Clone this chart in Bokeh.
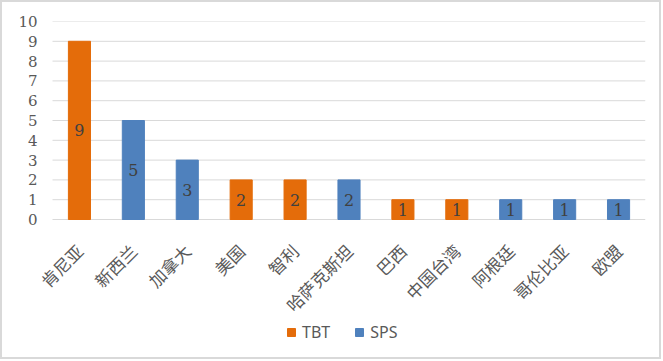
import math
from bokeh.plotting import figure
from bokeh.models import ColumnDataSource, Legend, LegendItem, FixedTicker, CDSView, IndexFilter, Range1d
from bokeh.core.properties import value
from bokeh.embed import file_html
from bokeh.resources import INLINE

categories = ["肯尼亚", "新西兰", "加拿大", "美国", "智利", "哈萨克斯坦", "巴西", "中国台湾", "阿根廷", "哥伦比亚", "欧盟"]
counts = [9, 5, 3, 2, 2, 2, 1, 1, 1, 1, 1]
series = ["TBT", "SPS", "SPS", "TBT", "TBT", "SPS", "TBT", "TBT", "SPS", "SPS", "SPS"]
series_names = ["TBT", "SPS"]
series_colors = {"TBT": "#E46C0A", "SPS": "#4F81BD"}
y_ticks = list(range(0, 11))

n = len(categories)
src = ColumnDataSource(dict(
    x=[i + 0.5 for i in range(n)],
    cat=categories,
    val=counts,
    zero=[0] * n,
    half=[v / 2 for v in counts],
    lab=[str(v) for v in counts],
    ser=series,
    col=[series_colors[s] for s in series],
))
grid_src = ColumnDataSource(dict(y=y_ticks, x0=[0] * len(y_ticks), x1=[n] * len(y_ticks)))

# layout: value axis 0..10 occupies top 198px of the frame; space below holds category labels + legend
axis_px = 198.0
frame_h = 326
y_lo = -(frame_h - axis_px) / (axis_px / 10.0)
cat_px = 593.0 / n
left_extra_px = 15.0
frame_w = 608

p = figure(x_range=Range1d(-left_extra_px / cat_px, n), y_range=Range1d(y_lo, 10),
           frame_width=frame_w, frame_height=frame_h,
           output_backend="svg", toolbar_location=None,
           min_border_left=35, min_border_right=14, min_border_top=19, min_border_bottom=10)
p.outline_line_color = None
p.styles = {"border": "2px solid #d9d9d9"}

p.xgrid.grid_line_color = None
p.ygrid.grid_line_color = None
p.segment(x0="x0", x1="x1", y0="y", y1="y", source=grid_src, line_color="#d9d9d9", line_width=1)

renderers = {}
for s in series_names:
    view_idx = [i for i, v in enumerate(series) if v == s]
    r = p.vbar(x="x", top="val", bottom=0, width=0.41, color="col", source=src,
               view=CDSView(filter=IndexFilter(view_idx)))
    renderers[s] = r

p.text(x="x", y="half", text="lab", source=src, text_align="center", text_baseline="middle",
       text_font=value("DejaVu Serif"), text_font_size="16px", text_color="#404040")

# category labels (rotated) under the zero line
p.text(x="x", y="zero", text="cat", source=src, angle=math.pi / 4,
       text_align="right", text_baseline="middle", y_offset=28,
       text_font=value("Noto Sans CJK SC"), text_font_size="17px", text_color="#595959")

p.yaxis.ticker = FixedTicker(ticks=y_ticks)
p.yaxis.axis_line_color = None
p.yaxis.major_tick_line_color = None
p.yaxis.minor_tick_line_color = None
p.yaxis.major_tick_out = 0
p.yaxis.major_tick_in = 0
p.yaxis.major_label_text_font = "DejaVu Serif"
p.yaxis.major_label_text_font_size = "15px"
p.yaxis.major_label_text_color = "#595959"
p.yaxis.major_label_standoff = 0

p.xaxis.visible = False

legend = Legend(items=[LegendItem(label=s, renderers=[renderers[s]]) for s in series_names],
                orientation="horizontal", location=(249, 4),
                label_text_font="Noto Sans", label_text_font_size="16px", label_text_color="#595959",
                glyph_width=10, glyph_height=10, label_standoff=6, spacing=24,
                border_line_color=None, background_fill_alpha=0, padding=0, margin=0)
p.add_layout(legend)

open("out.html", "w").write(file_html(p, INLINE))
